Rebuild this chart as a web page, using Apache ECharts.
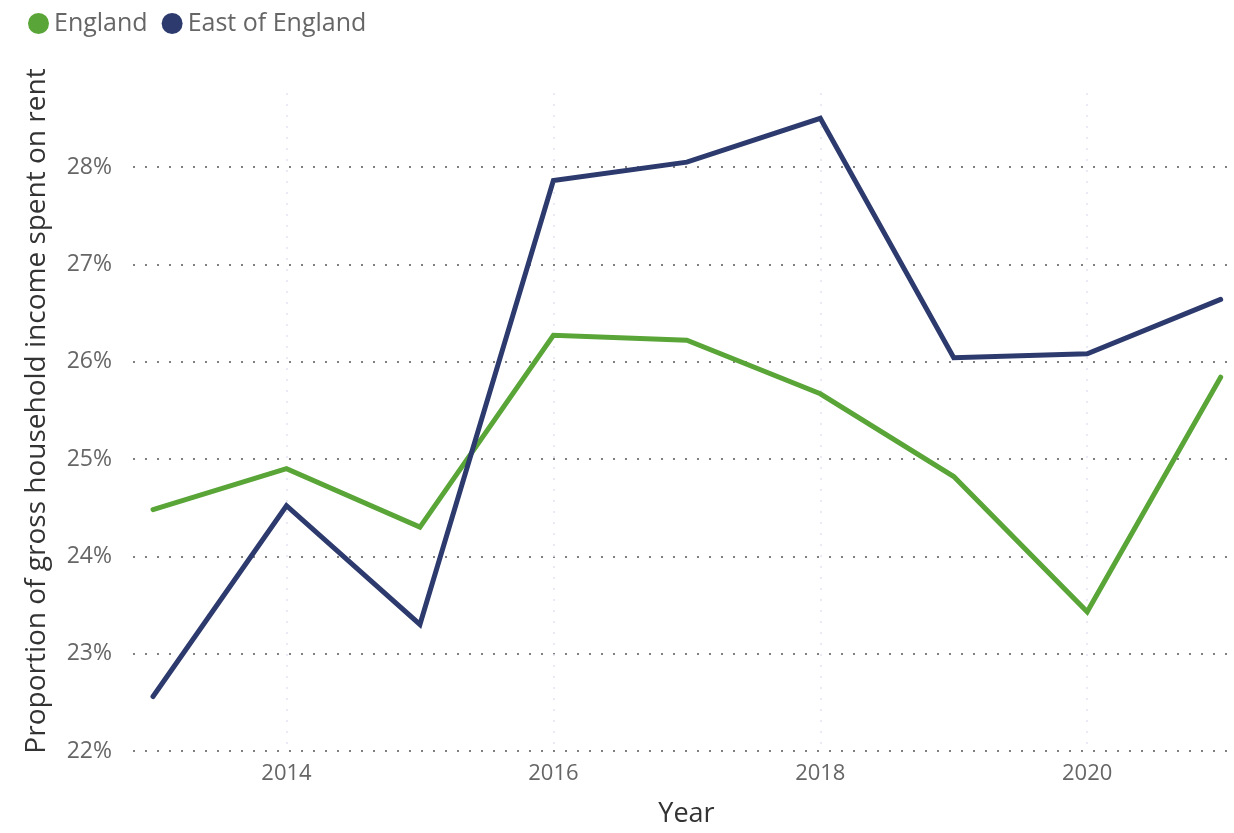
<!DOCTYPE html>
<html>
<head>
<meta charset="utf-8">
<script src="https://cdn.jsdelivr.net/npm/echarts@6/dist/echarts.min.js"></script>
<style>html,body{margin:0;padding:0;background:#fff}#c{width:1234px;height:833px}</style>
</head>
<body>
<div id="c"></div>
<script>
const years = [2013, 2014, 2015, 2016, 2017, 2018, 2019, 2020, 2021];
const england = [24.48, 24.90, 24.30, 26.27, 26.22, 25.67, 24.82, 23.43, 25.84];
const eastOfEngland = [22.56, 24.52, 23.30, 27.86, 28.05, 28.50, 26.04, 26.08, 26.64];
const xTicks = [2014, 2016, 2018, 2020];
const yTicks = [22, 23, 24, 25, 26, 27, 28];

const FONT = '"Open Sans", "Noto Sans", sans-serif';
const chart = echarts.init(document.getElementById('c'), null, {renderer: 'canvas'});
const pair = arr => years.map((y, i) => [y, arr[i]]);

chart.setOption({
  animation: false,
  textStyle: {fontFamily: FONT},
  legend: {
    left: 23, top: 6,
    icon: 'circle', itemWidth: 21, itemHeight: 21, itemGap: 14,
    textStyle: {fontSize: 25, color: '#666', fontFamily: FONT},
    data: ['England', 'East of England']
  },
  grid: {left: 133, right: 4, top: 93, height: 664, containLabel: false},
  xAxis: {
    type: 'value', min: 2012.85, max: 2021.07,
    name: 'Year', nameLocation: 'middle', nameGap: 50,
    nameTextStyle: {fontSize: 27, color: '#333', fontFamily: FONT, padding: [0, 0, 0, 10]},
    axisLine: {show: false}, axisTick: {show: false, customValues: xTicks},
    axisLabel: {customValues: xTicks, fontSize: 22, color: '#666', margin: 12, formatter: v => String(v)},
    splitLine: {show: true, lineStyle: {color: '#e2e4f4', type: [2, 9], width: 1.5}}
  },
  yAxis: {
    type: 'value', min: 22, max: 28.76,
    name: 'Proportion of gross household income spent on rent',
    nameLocation: 'middle', nameGap: 82, nameRotate: 90,
    nameTextStyle: {fontSize: 28, color: '#333', fontFamily: FONT, padding: [0, 0, 0, 22]},
    axisLine: {show: false}, axisTick: {show: false, customValues: yTicks},
    axisLabel: {customValues: yTicks, fontSize: 23, color: '#666', margin: 21, formatter: v => v + '%'},
    splitLine: {show: true, lineStyle: {color: '#808080', type: [2, 10], width: 2}}
  },
  series: [
    {name: 'England', type: 'line', data: pair(england), symbol: 'none',
     lineStyle: {width: 5, color: '#5aa537', cap: 'round', join: 'miter'}, itemStyle: {color: '#5aa537'}},
    {name: 'East of England', type: 'line', data: pair(eastOfEngland), symbol: 'none',
     lineStyle: {width: 5, color: '#2d3a6e', cap: 'round', join: 'miter'}, itemStyle: {color: '#2d3a6e'}}
  ]
});
</script>
</body>
</html>
